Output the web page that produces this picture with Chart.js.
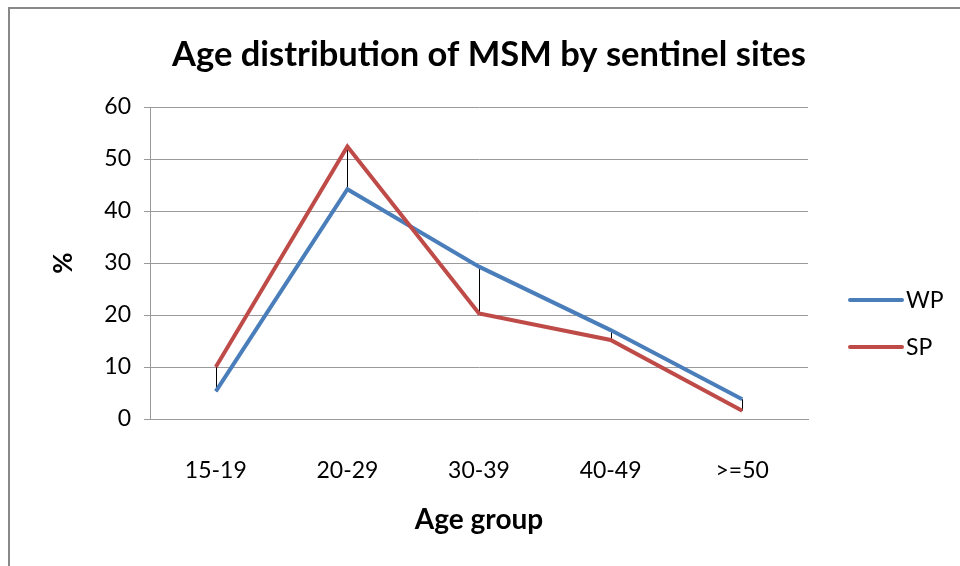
<!DOCTYPE html>
<html>
<head>
<meta charset="utf-8">
<script src="https://cdn.jsdelivr.net/npm/chart.js@4"></script>
<style>
  html, body { margin: 0; padding: 0; background: #fff; }
  #wrap { width: 960px; height: 566px; position: relative; }
</style>
</head>
<body>
<div id="wrap"><canvas id="myChart" width="960" height="566"></canvas></div>
<script>
const ageGroups = ['15-19', '20-29', '30-39', '40-49', '>=50'];
const wpValues = [5.3, 44.2, 29.3, 17.1, 3.8];
const spValues = [10.0, 52.4, 20.3, 15.2, 1.6];
const yTicks = [0, 10, 20, 30, 40, 50, 60];

const blue = '#4A7EBB';
const red = '#BE4B48';
const gridGray = '#9a9a9a';
const fontFam = 'Lato, "Open Sans", sans-serif';

// black high-low lines between the two series + frame + legend
const extras = {
  id: 'extras',
  beforeDatasetsDraw(chart) {
    const { ctx, scales: { x, y } } = chart;
    ctx.save();
    ctx.strokeStyle = '#000';
    ctx.lineWidth = 1;
    ageGroups.forEach((g, i) => {
      const px = Math.round(x.getPixelForValue(i)) + 0.5;
      ctx.beginPath();
      ctx.moveTo(px, y.getPixelForValue(wpValues[i]));
      ctx.lineTo(px, y.getPixelForValue(spValues[i]));
      ctx.stroke();
    });
    ctx.restore();
  },
  afterDraw(chart) {
    const ctx = chart.ctx;
    ctx.save();
    ctx.strokeStyle = '#888';
    ctx.lineWidth = 2;
    ctx.strokeRect(9, 8, 1000, 1000);
    // legend
    const items = [
      { label: 'WP', color: blue, y: 300 },
      { label: 'SP', color: red, y: 347 }
    ];
    ctx.font = '23px ' + fontFam;
    ctx.textBaseline = 'middle';
    items.forEach(it => {
      ctx.strokeStyle = it.color;
      ctx.lineWidth = 4;
      ctx.lineCap = 'round';
      ctx.beginPath();
      ctx.moveTo(850, it.y);
      ctx.lineTo(902, it.y);
      ctx.stroke();
      ctx.fillStyle = '#000';
      ctx.fillText(it.label, 906, it.y + 1);
    });
    ctx.restore();
  }
};

const ctx = document.getElementById('myChart');
new Chart(ctx, {
  type: 'line',
  data: {
    labels: ageGroups,
    datasets: [
      { label: 'WP', data: wpValues, borderColor: blue, backgroundColor: blue, borderWidth: 4, pointRadius: 0, tension: 0, order: 2 },
      { label: 'SP', data: spValues, borderColor: red, backgroundColor: red, borderWidth: 4, pointRadius: 0, tension: 0, order: 1 }
    ]
  },
  options: {
    responsive: false,
    animation: false,
    layout: { padding: { left: 18, right: 0, top: 0, bottom: 0 } },
    plugins: {
      legend: { display: false },
      tooltip: { enabled: false },
      title: {
        display: true,
        text: 'Age distribution of MSM by sentinel sites',
        color: '#000',
        font: { family: fontFam, size: 34.5, weight: 'bold', lineHeight: 1.2 },
        padding: { top: 34, bottom: 31.6 }
      }
    },
    scales: {
      x: {
        offset: true,
        grid: { display: false },
        border: { display: true, color: gridGray, width: 1 },
        ticks: { color: '#000', padding: 30, font: { family: fontFam, size: 23 }, maxRotation: 0 },
        title: {
          display: true, text: 'Age group', color: '#000',
          font: { family: fontFam, size: 28, weight: 'bold', lineHeight: 1.2 },
          padding: { top: 0, bottom: 29 }
        },
        afterFit(scale) { scale.height = 147; }
      },
      y: {
        min: 0, max: 60,
        afterBuildTicks(scale) { scale.ticks = yTicks.map(v => ({ value: v })); },
        grid: { color: gridGray, lineWidth: 1, drawTicks: true, tickLength: 6 },
        border: { display: true, color: gridGray, width: 1 },
        ticks: { color: '#000', padding: 13, font: { family: fontFam, size: 23 } },
        title: {
          display: true, text: '%', color: '#000',
          font: { family: fontFam, size: 26, weight: 'bold', lineHeight: 1.2 },
          padding: { top: 30, bottom: 0 }
        },
        afterFit(scale) { scale.width = 132; }
      },
      // empty right-hand axis that reserves room for the legend
      yRight: {
        position: 'right',
        min: 0, max: 60,
        grid: { display: false },
        border: { display: false },
        ticks: { display: false },
        afterFit(scale) { scale.width = 152; }
      }
    }
  },
  plugins: [extras]
});
</script>
</body>
</html>
